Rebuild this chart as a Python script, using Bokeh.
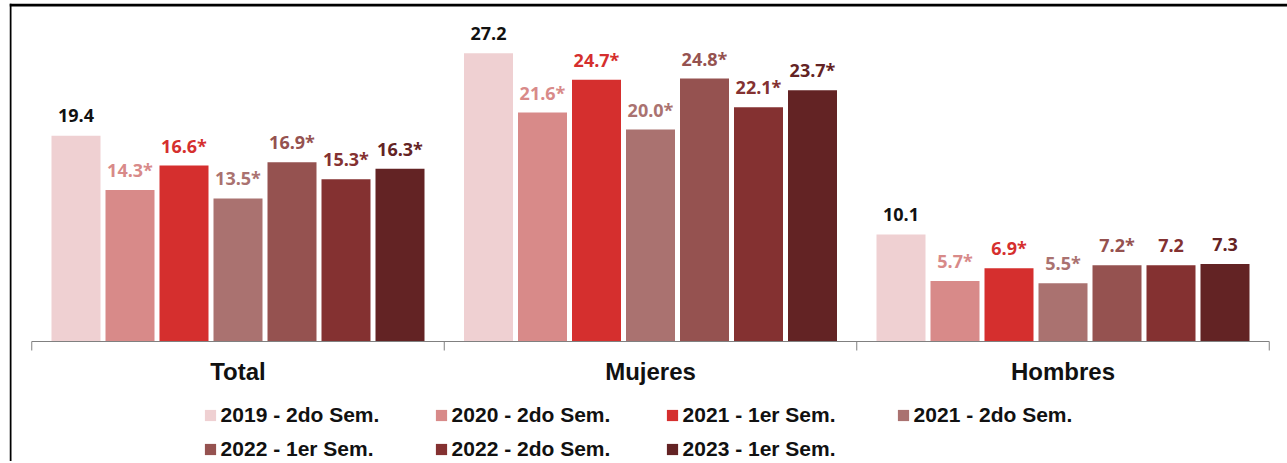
from bokeh.plotting import figure
from bokeh.models import ColumnDataSource, Legend, LegendItem, Range1d
from bokeh.core.properties import value
from bokeh.embed import file_html
from bokeh.resources import INLINE

categories = ["Total", "Mujeres", "Hombres"]
series = ["2019 - 2do Sem.", "2020 - 2do Sem.", "2021 - 1er Sem.", "2021 - 2do Sem.",
          "2022 - 1er Sem.", "2022 - 2do Sem.", "2023 - 1er Sem."]
colors = ["#efd0d2", "#d88a89", "#d52f2e", "#aa7270", "#955250", "#843131", "#632324"]
label_colors = ["#111111", "#d88a89", "#d52f2e", "#aa7270", "#955250", "#843131", "#632324"]

values_total = [19.4, 14.3, 16.6, 13.5, 16.9, 15.3, 16.3]
values_mujeres = [27.2, 21.6, 24.7, 20.0, 24.8, 22.1, 23.7]
values_hombres = [10.1, 5.7, 6.9, 5.5, 7.2, 7.2, 7.3]
signif_total = [False, True, True, True, True, True, True]
signif_mujeres = [False, True, True, True, True, True, True]
signif_hombres = [False, True, True, True, True, False, False]

values = [values_total, values_mujeres, values_hombres]
signif = [signif_total, signif_mujeres, signif_hombres]

n_cat = len(categories)
n_series = len(series)

# layout (pixels)
W, H = 1278, 458
px_per_x = 412.5
px_per_y = 10.6
x0_px = 22.25          # position of x=0 from the figure's left edge
ytop_px = 20           # position of y=30 from the figure's top edge
pitch = 54 / px_per_x
bar_w = 49 / px_per_x

x_start = -x0_px / px_per_x
x_end = x_start + W / px_per_x
y_end = 30 + ytop_px / px_per_y
y_start = y_end - H / px_per_y

p = figure(width=W, height=H, x_range=Range1d(x_start, x_end), y_range=Range1d(y_start, y_end),
           x_axis_type=None, y_axis_type=None, output_backend="svg", toolbar_location=None,
           min_border_left=0, min_border_right=0, min_border_top=0, min_border_bottom=0,
           outline_line_color=None, border_fill_color="white", background_fill_color="white",
           styles={"margin": "3px 0 0 9px"})
p.xgrid.visible = False
p.ygrid.visible = False

# frame lines (top and left) of the original picture
p.quad(left=[x_start], right=[x_end], top=[y_end], bottom=[y_end - 3 / px_per_y],
       fill_color="#000000", line_color=None)
p.quad(left=[x_start], right=[x_start + 2 / px_per_x], top=[y_end], bottom=[y_start],
       fill_color="#000000", line_color=None)

renderers = []
for j, s in enumerate(series):
    xs = [i + 0.5 + (j - (n_series - 1) / 2) * pitch for i in range(n_cat)]
    tops = [values[i][j] for i in range(n_cat)]
    labels = [f"{values[i][j]:.1f}" + ("*" if signif[i][j] else "") for i in range(n_cat)]
    src = ColumnDataSource(dict(x=xs, top=tops, label=labels))
    r = p.vbar(x="x", top="top", width=bar_w, fill_color=colors[j], line_color=None, source=src)
    renderers.append(r)
    p.text(x="x", y="top", text="label", source=src, text_align="center", text_baseline="alphabetic",
           y_offset=-20, text_color=label_colors[j], text_font=value("Open Sans"),
           text_font_style="bold", text_font_size="18px")

# category axis: baseline, separators and labels
bounds = list(range(n_cat + 1))
p.segment(x0=[0], y0=[0], x1=[n_cat], y1=[0], line_color="#808080", line_width=1)
p.segment(x0=bounds, y0=[0] * len(bounds), x1=bounds, y1=[-9 / px_per_y] * len(bounds),
          line_color="#808080", line_width=1)
cat_src = ColumnDataSource(dict(x=[i + 0.5 for i in range(n_cat)], y=[0] * n_cat, text=categories))
p.text(x="x", y="y", text="text", source=cat_src, text_align="center", text_baseline="alphabetic",
       y_offset=30, text_color="#111111", text_font=value("Liberation Sans"),
       text_font_style="bold", text_font_size="24px")

def make_legend(idx, loc):
    return Legend(items=[LegendItem(label=series[j], renderers=[renderers[j]]) for j in idx],
                  orientation="horizontal", location=loc, padding=0, spacing=0, margin=0,
                  border_line_color=None, background_fill_alpha=0,
                  glyph_width=14, glyph_height=14, label_standoff=4, label_width=213, label_height=14,
                  label_text_font="Liberation Sans", label_text_font_style="bold",
                  label_text_font_size="21px", label_text_color="#111111")

p.add_layout(make_legend([0, 1, 2, 3], (193.6, 34)), "center")
p.add_layout(make_legend([4, 5, 6], (193.6, 0)), "center")

open("out.html", "w").write(file_html(p, INLINE))
